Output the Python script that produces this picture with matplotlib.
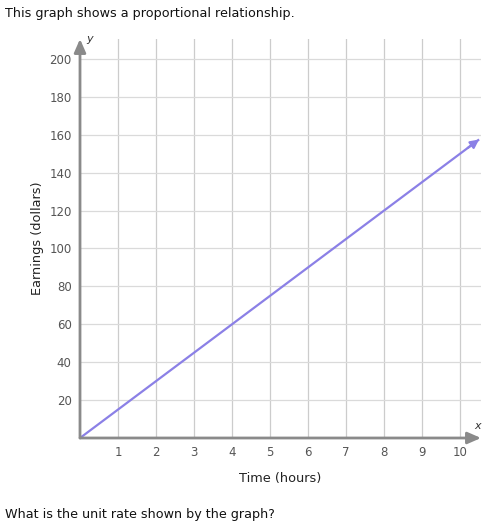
import matplotlib.pyplot as plt

# data: earnings = 15 * hours
hours = [0, 10.5]
earnings = [0, 157.5]
x_ticks = [1, 2, 3, 4, 5, 6, 7, 8, 9, 10]
y_ticks = [20, 40, 60, 80, 100, 120, 140, 160, 180, 200]

LINE = "#8b80e6"
AXIS = "#8a8a8a"
TICK_TXT = "#555555"

W, H = 499, 526
fig = plt.figure(figsize=(W / 100, H / 100), dpi=100, facecolor="white")
ax = fig.add_axes([80 / W, (H - 438) / H, 401 / W, 399 / H])
ax.set_xlim(0, 10.55)
ax.set_ylim(0, 210.5)

for sp in ax.spines.values():
    sp.set_visible(False)

ax.set_xticks(x_ticks)
ax.set_yticks(y_ticks)
ax.tick_params(length=0, labelsize=8.5, labelcolor=TICK_TXT, pad=6)
ax.xaxis.grid(True, color="#cccccc", lw=0.9)
ax.yaxis.grid(True, color="#dadada", lw=0.9)
ax.set_axisbelow(True)

ax.set_xlabel("Time (hours)", fontsize=9.3, color="#222222", labelpad=9)
ax.set_ylabel("Earnings (dollars)", fontsize=9.3, color="#222222", labelpad=4)

# axes with arrow heads
ax.annotate("", xy=(1.0, 0), xytext=(0, 0), xycoords="axes fraction",
            arrowprops=dict(arrowstyle="-|>,head_length=0.8,head_width=0.35",
                            color=AXIS, lw=2, shrinkA=0, shrinkB=0))
ax.annotate("", xy=(0, 1.0), xytext=(0, 0), xycoords="axes fraction",
            arrowprops=dict(arrowstyle="-|>,head_length=0.8,head_width=0.35",
                            color=AXIS, lw=2, shrinkA=0, shrinkB=0))
ax.text(1.0, 0.018, "x", transform=ax.transAxes, fontsize=8, style="italic",
        ha="right", va="bottom", color="#333333")
ax.text(0.015, 1.0, "y", transform=ax.transAxes, fontsize=8, style="italic",
        ha="left", va="center", color="#333333")

ax.plot(hours, earnings, color=LINE, lw=1.6, solid_capstyle="butt")
ax.annotate("", xy=(hours[1], earnings[1]), xytext=(hours[1] - 0.3, earnings[1] - 4.5),
            arrowprops=dict(arrowstyle="-|>,head_length=0.5,head_width=0.25",
                            color=LINE, lw=1.6, shrinkA=0, shrinkB=0))

fig.text(5 / W, 1 - 17 / H, "This graph shows a proportional relationship.",
         fontsize=9.2, color="#111111", ha="left", va="baseline")
fig.text(5 / W, 1 - 518 / H, "What is the unit rate shown by the graph?",
         fontsize=9.2, color="#111111", ha="left", va="baseline")

fig.savefig("out.png", dpi=100, facecolor="white")
